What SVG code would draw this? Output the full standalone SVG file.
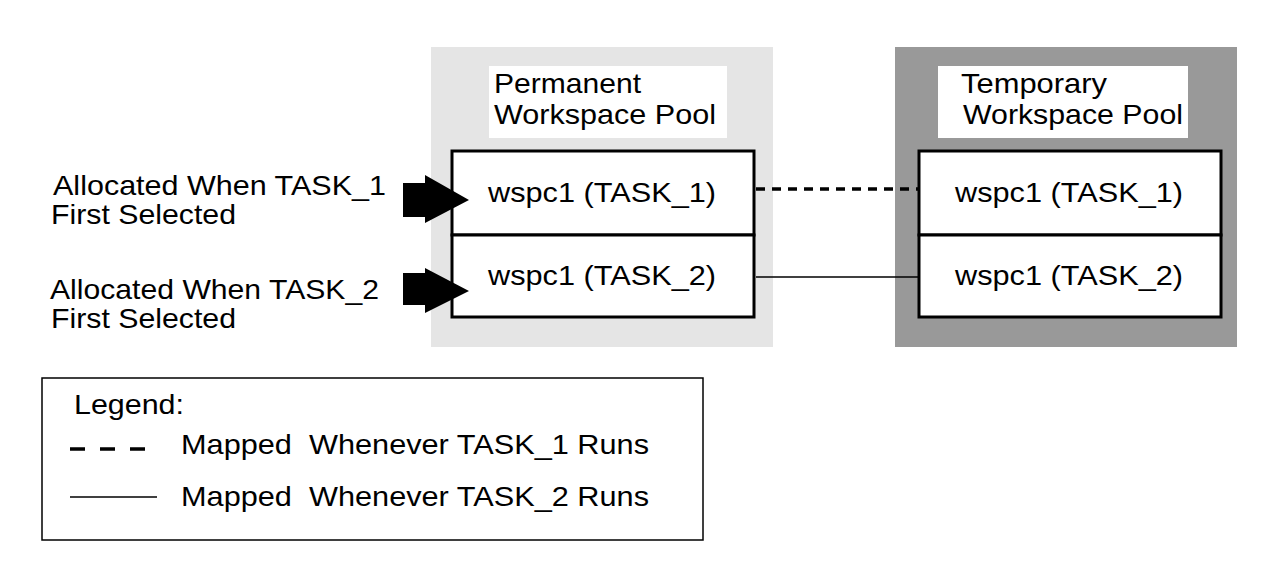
<svg xmlns="http://www.w3.org/2000/svg" width="1265" height="568" viewBox="0 0 1265 568">
<style>
text{font-family:"Liberation Sans",Arial,sans-serif;font-size:28px;fill:#000}
.box{fill:#fff;stroke:#000;stroke-width:3}
</style>
<rect width="1265" height="568" fill="#fff"/>
<g id="permanent-pool">
<rect x="431" y="47" width="342" height="300" fill="#e5e5e5"/>
<rect x="489" y="66" width="238" height="72" fill="#fff"/>
<text x="494" y="93" textLength="147" lengthAdjust="spacingAndGlyphs">Permanent</text>
<text x="494" y="124" textLength="222" lengthAdjust="spacingAndGlyphs">Workspace Pool</text>
</g>
<g id="temporary-pool">
<rect x="895" y="47" width="342" height="300" fill="#999"/>
<rect x="938" y="66" width="250" height="72" fill="#fff"/>
<text x="961" y="93" textLength="146" lengthAdjust="spacingAndGlyphs">Temporary</text>
<text x="963" y="124" textLength="220" lengthAdjust="spacingAndGlyphs">Workspace Pool</text>
</g>
<g id="p-task1"><rect class="box" x="452" y="151" width="302" height="84"/><text x="488" y="202" textLength="228" lengthAdjust="spacingAndGlyphs">wspc1 (TASK_1)</text></g>
<g id="p-task2"><rect class="box" x="452" y="235" width="302" height="82"/><text x="488" y="285" textLength="228" lengthAdjust="spacingAndGlyphs">wspc1 (TASK_2)</text></g>
<g id="t-task1"><rect class="box" x="919" y="151" width="302" height="84"/><text x="955" y="202" textLength="228" lengthAdjust="spacingAndGlyphs">wspc1 (TASK_1)</text></g>
<g id="t-task2"><rect class="box" x="919" y="235" width="302" height="82"/><text x="955" y="285" textLength="228" lengthAdjust="spacingAndGlyphs">wspc1 (TASK_2)</text></g>
<g id="labels">
<text x="53" y="195" textLength="333" lengthAdjust="spacingAndGlyphs">Allocated When TASK_1</text>
<text x="51" y="224" textLength="185" lengthAdjust="spacingAndGlyphs">First Selected</text>
<text x="50" y="299" textLength="329" lengthAdjust="spacingAndGlyphs">Allocated When TASK_2</text>
<text x="51" y="328" textLength="185" lengthAdjust="spacingAndGlyphs">First Selected</text>
</g>
<g id="connectors">
<polygon points="403,183 425,183 425,175 469,200 425,223 425,217 403,217"/>
<polygon points="403,273 425,273 425,268 469,291 425,313 425,305 403,305"/>
<line x1="756" y1="189" x2="918" y2="189" stroke="#000" stroke-width="3.5" stroke-dasharray="9,7"/>
<line x1="756" y1="277" x2="918" y2="277" stroke="#000" stroke-width="1.5"/>
</g>
<g id="legend">
<rect x="42" y="378" width="661" height="162" fill="#fff" stroke="#000" stroke-width="1.5"/>
<text x="74" y="414" textLength="110" lengthAdjust="spacingAndGlyphs">Legend:</text>
<line x1="70" y1="449" x2="145" y2="449" stroke="#000" stroke-width="3.5" stroke-dasharray="15,15"/>
<text x="181" y="454" textLength="468" lengthAdjust="spacingAndGlyphs" xml:space="preserve">Mapped  Whenever TASK_1 Runs</text>
<line x1="70" y1="497" x2="157" y2="497" stroke="#000" stroke-width="1.5"/>
<text x="181" y="506" textLength="468" lengthAdjust="spacingAndGlyphs" xml:space="preserve">Mapped  Whenever TASK_2 Runs</text>
</g>
</svg>
